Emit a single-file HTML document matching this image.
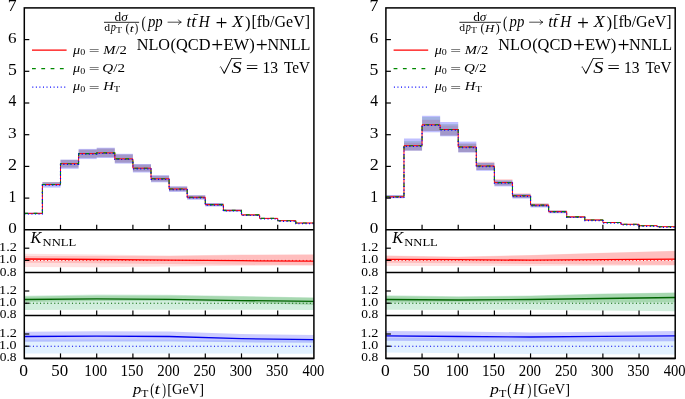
<!DOCTYPE html><html><head><meta charset="utf-8"><style>
html,body{margin:0;padding:0;background:#fff;}body{width:685px;height:399px;overflow:hidden;}
svg{display:block;font-family:"Liberation Serif", serif;will-change:transform;}.i{font-style:italic}
</style></head><body>
<svg width="685" height="399" viewBox="0 0 685 399">
<rect width="685" height="399" fill="#fff"/>
<rect x="24.3" y="212.8" width="18.1" height="1.2" fill="#f00" fill-opacity="0.15"/>
<rect x="24.3" y="212.8" width="18.1" height="1.2" fill="#008000" fill-opacity="0.15"/>
<rect x="24.3" y="212.6" width="18.1" height="1.8" fill="#00f" fill-opacity="0.25"/>
<rect x="42.4" y="182" width="18.1" height="3.5" fill="#f00" fill-opacity="0.15"/>
<rect x="42.4" y="182" width="18.1" height="3.5" fill="#008000" fill-opacity="0.15"/>
<rect x="42.4" y="182.3" width="18.1" height="5.3" fill="#00f" fill-opacity="0.25"/>
<rect x="60.5" y="159.9" width="18.1" height="7.7" fill="#f00" fill-opacity="0.15"/>
<rect x="60.5" y="159.9" width="18.1" height="7.7" fill="#008000" fill-opacity="0.15"/>
<rect x="60.5" y="159.6" width="18.1" height="9.2" fill="#00f" fill-opacity="0.25"/>
<rect x="78.6" y="149.7" width="18.1" height="8.2" fill="#f00" fill-opacity="0.15"/>
<rect x="78.6" y="149.7" width="18.1" height="8.2" fill="#008000" fill-opacity="0.15"/>
<rect x="78.6" y="148.9" width="18.1" height="10.2" fill="#00f" fill-opacity="0.25"/>
<rect x="96.7" y="148.5" width="18.1" height="8.6" fill="#f00" fill-opacity="0.15"/>
<rect x="96.7" y="148.5" width="18.1" height="8.6" fill="#008000" fill-opacity="0.15"/>
<rect x="96.7" y="147.7" width="18.1" height="10.3" fill="#00f" fill-opacity="0.25"/>
<rect x="114.8" y="154.5" width="18.1" height="8.2" fill="#f00" fill-opacity="0.15"/>
<rect x="114.8" y="154.5" width="18.1" height="8.2" fill="#008000" fill-opacity="0.15"/>
<rect x="114.8" y="153.8" width="18.1" height="9.8" fill="#00f" fill-opacity="0.25"/>
<rect x="132.9" y="164.6" width="18.1" height="6.9" fill="#f00" fill-opacity="0.15"/>
<rect x="132.9" y="164.6" width="18.1" height="6.9" fill="#008000" fill-opacity="0.15"/>
<rect x="132.9" y="164" width="18.1" height="8.5" fill="#00f" fill-opacity="0.25"/>
<rect x="151" y="175.8" width="18.1" height="5.7" fill="#f00" fill-opacity="0.15"/>
<rect x="151" y="175.8" width="18.1" height="5.7" fill="#008000" fill-opacity="0.15"/>
<rect x="151" y="175.2" width="18.1" height="7.1" fill="#00f" fill-opacity="0.25"/>
<rect x="169.1" y="186.7" width="18.1" height="4.5" fill="#f00" fill-opacity="0.15"/>
<rect x="169.1" y="186.7" width="18.1" height="4.5" fill="#008000" fill-opacity="0.15"/>
<rect x="169.1" y="186.3" width="18.1" height="5.6" fill="#00f" fill-opacity="0.25"/>
<rect x="187.2" y="195.5" width="18.1" height="3.6" fill="#f00" fill-opacity="0.15"/>
<rect x="187.2" y="195.5" width="18.1" height="3.6" fill="#008000" fill-opacity="0.15"/>
<rect x="187.2" y="195.2" width="18.1" height="4.5" fill="#00f" fill-opacity="0.25"/>
<rect x="205.3" y="203.3" width="18.1" height="2.7" fill="#f00" fill-opacity="0.15"/>
<rect x="205.3" y="203.3" width="18.1" height="2.7" fill="#008000" fill-opacity="0.15"/>
<rect x="205.3" y="203" width="18.1" height="3.5" fill="#00f" fill-opacity="0.25"/>
<rect x="223.4" y="209.6" width="18.1" height="1.7" fill="#f00" fill-opacity="0.15"/>
<rect x="223.4" y="209.6" width="18.1" height="1.7" fill="#008000" fill-opacity="0.15"/>
<rect x="223.4" y="209.4" width="18.1" height="2.2" fill="#00f" fill-opacity="0.25"/>
<rect x="241.5" y="214.3" width="18.1" height="1.2" fill="#f00" fill-opacity="0.15"/>
<rect x="241.5" y="214.3" width="18.1" height="1.2" fill="#008000" fill-opacity="0.15"/>
<rect x="241.5" y="214.2" width="18.1" height="1.5" fill="#00f" fill-opacity="0.25"/>
<rect x="259.6" y="218" width="18.1" height="0.9" fill="#f00" fill-opacity="0.15"/>
<rect x="259.6" y="218" width="18.1" height="0.9" fill="#008000" fill-opacity="0.15"/>
<rect x="259.6" y="217.9" width="18.1" height="1.1" fill="#00f" fill-opacity="0.25"/>
<rect x="277.7" y="220.4" width="18.1" height="0.7" fill="#f00" fill-opacity="0.15"/>
<rect x="277.7" y="220.4" width="18.1" height="0.7" fill="#008000" fill-opacity="0.15"/>
<rect x="277.7" y="220.3" width="18.1" height="0.9" fill="#00f" fill-opacity="0.25"/>
<rect x="295.8" y="222.8" width="18.1" height="0.5" fill="#f00" fill-opacity="0.15"/>
<rect x="295.8" y="222.8" width="18.1" height="0.5" fill="#008000" fill-opacity="0.15"/>
<rect x="295.8" y="222.7" width="18.1" height="0.7" fill="#00f" fill-opacity="0.25"/>
<path d="M24.3,213.4V213.4H42.4V184.5H60.5V163.7H78.6V153.6H96.7V152.9H114.8V158.9H132.9V168.2H151V178.8H169.1V189H187.2V197.3H205.3V204.6H223.4V210.4H241.5V214.9H259.6V218.4H277.7V220.7H295.8V223H313.9" fill="none" stroke="#f00" stroke-width="1.0"/>
<path d="M24.3,213.4V213.4H42.4V184.5H60.5V163.7H78.6V153.6H96.7V152.9H114.8V158.9H132.9V168.2H151V178.8H169.1V189H187.2V197.3H205.3V204.6H223.4V210.4H241.5V214.9H259.6V218.4H277.7V220.7H295.8V223H313.9" fill="none" stroke="#080" stroke-width="1.1" stroke-dasharray="3.8,5.5"/>
<path d="M24.3,214V214H42.4V185.1H60.5V164.3H78.6V154.2H96.7V153.5H114.8V159.5H132.9V168.8H151V179.4H169.1V189.6H187.2V197.9H205.3V205.2H223.4V211H241.5V215.5H259.6V219H277.7V221.3H295.8V223.6H313.9" fill="none" stroke="#00f" stroke-width="1.2" stroke-dasharray="1.1,2.45"/>
<path d="M24.3,253.8L96.7,254.4L169.1,255.5L241.5,254.5L313.9,254.4L313.9,265.5L241.5,265.8L169.1,266.5L96.7,267.2L24.3,267Z" fill="#f00" fill-opacity="0.12"/>
<path d="M24.3,256L96.7,256L169.1,256.1L241.5,255L313.9,254.6L313.9,265.2L241.5,264.8L169.1,264L96.7,263.2L24.3,262.8Z" fill="#f00" fill-opacity="0.15"/>
<line x1="24.3" y1="260.4" x2="313.9" y2="260.4" stroke="#fff" stroke-opacity="0.75" stroke-width="1"/>
<line x1="25.8" y1="260.4" x2="313.9" y2="260.4" stroke="#f00" stroke-width="1" stroke-dasharray="1,2.55"/>
<path d="M24.3,259L96.7,259.5L169.1,260.2L241.5,260.7L313.9,261.2" fill="none" stroke="#f00" stroke-width="1.3"/>
<line x1="24.3" y1="248.2" x2="29.3" y2="248.2" stroke="#000" stroke-width="1.2"/>
<line x1="24.3" y1="260.4" x2="29.3" y2="260.4" stroke="#000" stroke-width="1.2"/>
<line x1="60.5" y1="272.6" x2="60.5" y2="267.6" stroke="#000" stroke-width="1.2"/>
<line x1="96.7" y1="272.6" x2="96.7" y2="267.6" stroke="#000" stroke-width="1.2"/>
<line x1="132.9" y1="272.6" x2="132.9" y2="267.6" stroke="#000" stroke-width="1.2"/>
<line x1="169.1" y1="272.6" x2="169.1" y2="267.6" stroke="#000" stroke-width="1.2"/>
<line x1="205.3" y1="272.6" x2="205.3" y2="267.6" stroke="#000" stroke-width="1.2"/>
<line x1="241.5" y1="272.6" x2="241.5" y2="267.6" stroke="#000" stroke-width="1.2"/>
<line x1="277.7" y1="272.6" x2="277.7" y2="267.6" stroke="#000" stroke-width="1.2"/>
<line x1="24.3" y1="272.6" x2="313.9" y2="272.6" stroke="#000" stroke-width="1.5"/>
<path d="M24.3,295.8L96.7,294.5L169.1,294.8L241.5,296L313.9,297.5L313.9,309.9L241.5,309.8L169.1,309.7L96.7,309.7L24.3,309.9Z" fill="#00a040" fill-opacity="0.18"/>
<path d="M24.3,296.6L96.7,295.4L169.1,295.5L241.5,296.4L313.9,297.8L313.9,305L241.5,302.5L169.1,300.8L96.7,301L24.3,301.9Z" fill="#008000" fill-opacity="0.2"/>
<line x1="25.8" y1="303.2" x2="313.9" y2="303.2" stroke="#006400" stroke-width="1.1" stroke-dasharray="1.1,2.45"/>
<path d="M24.3,299.5L96.7,298.9L169.1,299.4L241.5,300.6L313.9,301.3" fill="none" stroke="#006400" stroke-width="1.3"/>
<line x1="24.3" y1="291" x2="29.3" y2="291" stroke="#000" stroke-width="1.2"/>
<line x1="24.3" y1="303.2" x2="29.3" y2="303.2" stroke="#000" stroke-width="1.2"/>
<line x1="60.5" y1="315.4" x2="60.5" y2="310.4" stroke="#000" stroke-width="1.2"/>
<line x1="96.7" y1="315.4" x2="96.7" y2="310.4" stroke="#000" stroke-width="1.2"/>
<line x1="132.9" y1="315.4" x2="132.9" y2="310.4" stroke="#000" stroke-width="1.2"/>
<line x1="169.1" y1="315.4" x2="169.1" y2="310.4" stroke="#000" stroke-width="1.2"/>
<line x1="205.3" y1="315.4" x2="205.3" y2="310.4" stroke="#000" stroke-width="1.2"/>
<line x1="241.5" y1="315.4" x2="241.5" y2="310.4" stroke="#000" stroke-width="1.2"/>
<line x1="277.7" y1="315.4" x2="277.7" y2="310.4" stroke="#000" stroke-width="1.2"/>
<line x1="24.3" y1="315.4" x2="313.9" y2="315.4" stroke="#000" stroke-width="1.5"/>
<path d="M24.3,339.6L96.7,339.5L169.1,339.5L241.5,339.7L313.9,340L313.9,353.8L241.5,353.6L169.1,353.5L96.7,353.5L24.3,353.6Z" fill="#3fa0ff" fill-opacity="0.15"/>
<path d="M24.3,331.8L96.7,331.2L169.1,331.6L241.5,334L313.9,334.9L313.9,342.8L241.5,342.3L169.1,341.6L96.7,341.4L24.3,341.7Z" fill="#00f" fill-opacity="0.2"/>
<line x1="25.8" y1="346.2" x2="313.9" y2="346.2" stroke="#0000ee" stroke-width="1.1" stroke-dasharray="1.1,2.45"/>
<path d="M24.3,336.5L96.7,336.2L169.1,336.5L241.5,338.6L313.9,339.7" fill="none" stroke="#0000ee" stroke-width="1.3"/>
<line x1="24.3" y1="334" x2="29.3" y2="334" stroke="#000" stroke-width="1.2"/>
<line x1="24.3" y1="346.2" x2="29.3" y2="346.2" stroke="#000" stroke-width="1.2"/>
<line x1="60.5" y1="358.4" x2="60.5" y2="353.4" stroke="#000" stroke-width="1.2"/>
<line x1="96.7" y1="358.4" x2="96.7" y2="353.4" stroke="#000" stroke-width="1.2"/>
<line x1="132.9" y1="358.4" x2="132.9" y2="353.4" stroke="#000" stroke-width="1.2"/>
<line x1="169.1" y1="358.4" x2="169.1" y2="353.4" stroke="#000" stroke-width="1.2"/>
<line x1="205.3" y1="358.4" x2="205.3" y2="353.4" stroke="#000" stroke-width="1.2"/>
<line x1="241.5" y1="358.4" x2="241.5" y2="353.4" stroke="#000" stroke-width="1.2"/>
<line x1="277.7" y1="358.4" x2="277.7" y2="353.4" stroke="#000" stroke-width="1.2"/>
<line x1="24.3" y1="358.4" x2="313.9" y2="358.4" stroke="#000" stroke-width="1.5"/>
<line x1="24.3" y1="198.1" x2="29.3" y2="198.1" stroke="#000" stroke-width="1.2"/>
<line x1="24.3" y1="166.4" x2="29.3" y2="166.4" stroke="#000" stroke-width="1.2"/>
<line x1="24.3" y1="134.7" x2="29.3" y2="134.7" stroke="#000" stroke-width="1.2"/>
<line x1="24.3" y1="103" x2="29.3" y2="103" stroke="#000" stroke-width="1.2"/>
<line x1="24.3" y1="71.3" x2="29.3" y2="71.3" stroke="#000" stroke-width="1.2"/>
<line x1="24.3" y1="39.6" x2="29.3" y2="39.6" stroke="#000" stroke-width="1.2"/>
<line x1="60.5" y1="229.8" x2="60.5" y2="224.8" stroke="#000" stroke-width="1.2"/>
<line x1="96.7" y1="229.8" x2="96.7" y2="224.8" stroke="#000" stroke-width="1.2"/>
<line x1="132.9" y1="229.8" x2="132.9" y2="224.8" stroke="#000" stroke-width="1.2"/>
<line x1="169.1" y1="229.8" x2="169.1" y2="224.8" stroke="#000" stroke-width="1.2"/>
<line x1="205.3" y1="229.8" x2="205.3" y2="224.8" stroke="#000" stroke-width="1.2"/>
<line x1="241.5" y1="229.8" x2="241.5" y2="224.8" stroke="#000" stroke-width="1.2"/>
<line x1="277.7" y1="229.8" x2="277.7" y2="224.8" stroke="#000" stroke-width="1.2"/>
<rect x="24.3" y="7.9" width="289.6" height="350.5" fill="none" stroke="#000" stroke-width="1.5"/>
<line x1="24.3" y1="229.8" x2="313.9" y2="229.8" stroke="#000" stroke-width="1.5"/>
<path d="M167.6,22.2H180.9" stroke="#000" stroke-width="0.7"/>
<path d="M178.3,19.6Q179.2,21.7 181.4,22.2Q179.2,22.7 178.3,24.8" fill="none" stroke="#000" stroke-width="0.7"/>
<path d="M193.8,14.5H198.2" stroke="#000" stroke-width="0.8"/>
<line x1="104" y1="22.3" x2="139.1" y2="22.3" stroke="#000" stroke-width="0.85"/>
<path d="M219.1,67.7L220.7,66.3L224.2,72.2L231.4,58.0H241.6V58.75H231.9L224.7,73.7H223.9L220.5,67.0Z" fill="#000"/>
<line x1="32" y1="50.1" x2="66.6" y2="50.1" stroke="#f00" stroke-width="1.2"/>
<line x1="32" y1="68.7" x2="66.6" y2="68.7" stroke="#080" stroke-width="1.2" stroke-dasharray="3.8,5.5"/>
<line x1="32.3" y1="87.1" x2="66.6" y2="87.1" stroke="#00f" stroke-width="1.1" stroke-dasharray="1,2.55"/>
<rect x="385.9" y="195.5" width="18.08" height="2.5" fill="#f00" fill-opacity="0.15"/>
<rect x="385.9" y="195.5" width="18.08" height="2.5" fill="#008000" fill-opacity="0.15"/>
<rect x="385.9" y="195" width="18.08" height="3.3" fill="#00f" fill-opacity="0.25"/>
<rect x="403.98" y="142.6" width="18.08" height="7.9" fill="#f00" fill-opacity="0.15"/>
<rect x="403.98" y="141" width="18.08" height="9.5" fill="#008000" fill-opacity="0.15"/>
<rect x="403.98" y="138.5" width="18.08" height="12.2" fill="#00f" fill-opacity="0.25"/>
<rect x="422.06" y="119.8" width="18.08" height="11.2" fill="#f00" fill-opacity="0.15"/>
<rect x="422.06" y="117" width="18.08" height="14" fill="#008000" fill-opacity="0.15"/>
<rect x="422.06" y="115.8" width="18.08" height="16.5" fill="#00f" fill-opacity="0.25"/>
<rect x="440.14" y="125.5" width="18.08" height="10" fill="#f00" fill-opacity="0.15"/>
<rect x="440.14" y="124" width="18.08" height="11.5" fill="#008000" fill-opacity="0.15"/>
<rect x="440.14" y="122" width="18.08" height="14.3" fill="#00f" fill-opacity="0.25"/>
<rect x="458.23" y="143.6" width="18.08" height="8.5" fill="#f00" fill-opacity="0.15"/>
<rect x="458.23" y="143.6" width="18.08" height="8.5" fill="#008000" fill-opacity="0.15"/>
<rect x="458.23" y="141.6" width="18.08" height="10.9" fill="#00f" fill-opacity="0.25"/>
<rect x="476.31" y="161.8" width="18.08" height="8.2" fill="#f00" fill-opacity="0.15"/>
<rect x="476.31" y="162.8" width="18.08" height="7.2" fill="#008000" fill-opacity="0.15"/>
<rect x="476.31" y="162.8" width="18.08" height="8" fill="#00f" fill-opacity="0.25"/>
<rect x="494.39" y="179" width="18.08" height="6.5" fill="#f00" fill-opacity="0.15"/>
<rect x="494.39" y="180.4" width="18.08" height="5.1" fill="#008000" fill-opacity="0.15"/>
<rect x="494.39" y="180.4" width="18.08" height="6" fill="#00f" fill-opacity="0.25"/>
<rect x="512.47" y="193.1" width="18.08" height="4.9" fill="#f00" fill-opacity="0.15"/>
<rect x="512.47" y="194" width="18.08" height="4" fill="#008000" fill-opacity="0.15"/>
<rect x="512.47" y="194" width="18.08" height="4.6" fill="#00f" fill-opacity="0.25"/>
<rect x="530.55" y="203.2" width="18.08" height="3.8" fill="#f00" fill-opacity="0.15"/>
<rect x="530.55" y="203.8" width="18.08" height="3.2" fill="#008000" fill-opacity="0.15"/>
<rect x="530.55" y="203.8" width="18.08" height="3.7" fill="#00f" fill-opacity="0.25"/>
<rect x="548.63" y="210.2" width="18.08" height="2.6" fill="#f00" fill-opacity="0.15"/>
<rect x="548.63" y="210.6" width="18.08" height="2.2" fill="#008000" fill-opacity="0.15"/>
<rect x="548.63" y="210.6" width="18.08" height="2.7" fill="#00f" fill-opacity="0.25"/>
<rect x="566.71" y="216" width="18.08" height="1.7" fill="#f00" fill-opacity="0.15"/>
<rect x="566.71" y="216.2" width="18.08" height="1.5" fill="#008000" fill-opacity="0.15"/>
<rect x="566.71" y="216.2" width="18.08" height="1.8" fill="#00f" fill-opacity="0.25"/>
<rect x="584.79" y="219.3" width="18.08" height="1.3" fill="#f00" fill-opacity="0.15"/>
<rect x="584.79" y="219.3" width="18.08" height="1.3" fill="#008000" fill-opacity="0.15"/>
<rect x="584.79" y="219.4" width="18.08" height="1.4" fill="#00f" fill-opacity="0.25"/>
<rect x="602.88" y="222" width="18.08" height="1" fill="#f00" fill-opacity="0.15"/>
<rect x="602.88" y="222" width="18.08" height="1" fill="#008000" fill-opacity="0.15"/>
<rect x="602.88" y="222.1" width="18.08" height="1" fill="#00f" fill-opacity="0.25"/>
<rect x="620.96" y="223.9" width="18.08" height="0.8" fill="#f00" fill-opacity="0.15"/>
<rect x="620.96" y="223.9" width="18.08" height="0.8" fill="#008000" fill-opacity="0.15"/>
<rect x="620.96" y="224" width="18.08" height="0.8" fill="#00f" fill-opacity="0.25"/>
<rect x="639.04" y="225.4" width="18.08" height="0.6" fill="#f00" fill-opacity="0.15"/>
<rect x="639.04" y="225.4" width="18.08" height="0.6" fill="#008000" fill-opacity="0.15"/>
<rect x="639.04" y="225.5" width="18.08" height="0.6" fill="#00f" fill-opacity="0.25"/>
<rect x="657.12" y="226.5" width="18.08" height="0.5" fill="#f00" fill-opacity="0.15"/>
<rect x="657.12" y="226.5" width="18.08" height="0.5" fill="#008000" fill-opacity="0.15"/>
<rect x="657.12" y="226.5" width="18.08" height="0.5" fill="#00f" fill-opacity="0.25"/>
<path d="M385.9,196.8V196.8H403.98V145.7H422.06V124.8H440.14V129.5H458.23V147H476.31V166H494.39V182.6H512.47V195.8H530.55V205.1H548.63V211.6H566.71V216.9H584.79V220H602.88V222.5H620.96V224.3H639.04V225.7H657.12V226.7H675.2" fill="none" stroke="#f00" stroke-width="1.0"/>
<path d="M385.9,196.8V196.8H403.98V145.7H422.06V124.8H440.14V129.5H458.23V147H476.31V166H494.39V182.6H512.47V195.8H530.55V205.1H548.63V211.6H566.71V216.9H584.79V220H602.88V222.5H620.96V224.3H639.04V225.7H657.12V226.7H675.2" fill="none" stroke="#080" stroke-width="1.1" stroke-dasharray="3.8,5.5"/>
<path d="M385.9,197.4V197.4H403.98V146.3H422.06V125.4H440.14V130.1H458.23V147.6H476.31V166.6H494.39V183.2H512.47V196.4H530.55V205.7H548.63V212.2H566.71V217.5H584.79V220.6H602.88V223.1H620.96V224.9H639.04V226.3H657.12V227.3H675.2" fill="none" stroke="#00f" stroke-width="1.2" stroke-dasharray="1.1,2.45"/>
<path d="M385.9,255.5L458.23,256.5L530.55,255L602.88,252.8L675.2,250.8L675.2,265.5L602.88,265.8L530.55,266L458.23,266L385.9,266Z" fill="#f00" fill-opacity="0.12"/>
<path d="M385.9,255.8L458.23,257L530.55,255.3L602.88,253L675.2,251L675.2,264.9L602.88,264.5L530.55,264L458.23,263.3L385.9,262.7Z" fill="#f00" fill-opacity="0.15"/>
<line x1="385.9" y1="260.4" x2="675.2" y2="260.4" stroke="#fff" stroke-opacity="0.75" stroke-width="1"/>
<line x1="387.4" y1="260.4" x2="675.2" y2="260.4" stroke="#f00" stroke-width="1" stroke-dasharray="1,2.55"/>
<path d="M385.9,259.3L458.23,259.6L530.55,260.2L602.88,259.7L675.2,259.1" fill="none" stroke="#f00" stroke-width="1.3"/>
<line x1="385.9" y1="248.2" x2="390.9" y2="248.2" stroke="#000" stroke-width="1.2"/>
<line x1="385.9" y1="260.4" x2="390.9" y2="260.4" stroke="#000" stroke-width="1.2"/>
<line x1="422.06" y1="272.6" x2="422.06" y2="267.6" stroke="#000" stroke-width="1.2"/>
<line x1="458.23" y1="272.6" x2="458.23" y2="267.6" stroke="#000" stroke-width="1.2"/>
<line x1="494.39" y1="272.6" x2="494.39" y2="267.6" stroke="#000" stroke-width="1.2"/>
<line x1="530.55" y1="272.6" x2="530.55" y2="267.6" stroke="#000" stroke-width="1.2"/>
<line x1="566.71" y1="272.6" x2="566.71" y2="267.6" stroke="#000" stroke-width="1.2"/>
<line x1="602.88" y1="272.6" x2="602.88" y2="267.6" stroke="#000" stroke-width="1.2"/>
<line x1="639.04" y1="272.6" x2="639.04" y2="267.6" stroke="#000" stroke-width="1.2"/>
<line x1="385.9" y1="272.6" x2="675.2" y2="272.6" stroke="#000" stroke-width="1.5"/>
<path d="M385.9,295.3L458.23,296.3L530.55,295.5L602.88,293.6L675.2,292.5L675.2,311.3L602.88,310.4L530.55,309.7L458.23,309.9L385.9,309.8Z" fill="#00a040" fill-opacity="0.18"/>
<path d="M385.9,296L458.23,296.8L530.55,296L602.88,294L675.2,292.8L675.2,302.3L602.88,302.4L530.55,302.4L458.23,302.3L385.9,302.5Z" fill="#008000" fill-opacity="0.2"/>
<line x1="387.4" y1="303.2" x2="675.2" y2="303.2" stroke="#006400" stroke-width="1.1" stroke-dasharray="1.1,2.45"/>
<path d="M385.9,299.5L458.23,300L530.55,299.5L602.88,298.5L675.2,297.5" fill="none" stroke="#006400" stroke-width="1.3"/>
<line x1="385.9" y1="291" x2="390.9" y2="291" stroke="#000" stroke-width="1.2"/>
<line x1="385.9" y1="303.2" x2="390.9" y2="303.2" stroke="#000" stroke-width="1.2"/>
<line x1="422.06" y1="315.4" x2="422.06" y2="310.4" stroke="#000" stroke-width="1.2"/>
<line x1="458.23" y1="315.4" x2="458.23" y2="310.4" stroke="#000" stroke-width="1.2"/>
<line x1="494.39" y1="315.4" x2="494.39" y2="310.4" stroke="#000" stroke-width="1.2"/>
<line x1="530.55" y1="315.4" x2="530.55" y2="310.4" stroke="#000" stroke-width="1.2"/>
<line x1="566.71" y1="315.4" x2="566.71" y2="310.4" stroke="#000" stroke-width="1.2"/>
<line x1="602.88" y1="315.4" x2="602.88" y2="310.4" stroke="#000" stroke-width="1.2"/>
<line x1="639.04" y1="315.4" x2="639.04" y2="310.4" stroke="#000" stroke-width="1.2"/>
<line x1="385.9" y1="315.4" x2="675.2" y2="315.4" stroke="#000" stroke-width="1.5"/>
<path d="M385.9,338L458.23,338L530.55,338L602.88,337.8L675.2,337.5L675.2,354.4L602.88,354.3L530.55,354L458.23,353.3L385.9,352.5Z" fill="#3fa0ff" fill-opacity="0.15"/>
<path d="M385.9,330.9L458.23,331.5L530.55,332.4L602.88,331.8L675.2,331L675.2,341.3L602.88,341.4L530.55,341.6L458.23,341.2L385.9,340.8Z" fill="#00f" fill-opacity="0.2"/>
<line x1="387.4" y1="346.2" x2="675.2" y2="346.2" stroke="#0000ee" stroke-width="1.1" stroke-dasharray="1.1,2.45"/>
<path d="M385.9,335.9L458.23,336.5L530.55,337L602.88,336.4L675.2,335.9" fill="none" stroke="#0000ee" stroke-width="1.3"/>
<line x1="385.9" y1="334" x2="390.9" y2="334" stroke="#000" stroke-width="1.2"/>
<line x1="385.9" y1="346.2" x2="390.9" y2="346.2" stroke="#000" stroke-width="1.2"/>
<line x1="422.06" y1="358.4" x2="422.06" y2="353.4" stroke="#000" stroke-width="1.2"/>
<line x1="458.23" y1="358.4" x2="458.23" y2="353.4" stroke="#000" stroke-width="1.2"/>
<line x1="494.39" y1="358.4" x2="494.39" y2="353.4" stroke="#000" stroke-width="1.2"/>
<line x1="530.55" y1="358.4" x2="530.55" y2="353.4" stroke="#000" stroke-width="1.2"/>
<line x1="566.71" y1="358.4" x2="566.71" y2="353.4" stroke="#000" stroke-width="1.2"/>
<line x1="602.88" y1="358.4" x2="602.88" y2="353.4" stroke="#000" stroke-width="1.2"/>
<line x1="639.04" y1="358.4" x2="639.04" y2="353.4" stroke="#000" stroke-width="1.2"/>
<line x1="385.9" y1="358.4" x2="675.2" y2="358.4" stroke="#000" stroke-width="1.5"/>
<line x1="385.9" y1="198.1" x2="390.9" y2="198.1" stroke="#000" stroke-width="1.2"/>
<line x1="385.9" y1="166.4" x2="390.9" y2="166.4" stroke="#000" stroke-width="1.2"/>
<line x1="385.9" y1="134.7" x2="390.9" y2="134.7" stroke="#000" stroke-width="1.2"/>
<line x1="385.9" y1="103" x2="390.9" y2="103" stroke="#000" stroke-width="1.2"/>
<line x1="385.9" y1="71.3" x2="390.9" y2="71.3" stroke="#000" stroke-width="1.2"/>
<line x1="385.9" y1="39.6" x2="390.9" y2="39.6" stroke="#000" stroke-width="1.2"/>
<line x1="422.06" y1="229.8" x2="422.06" y2="224.8" stroke="#000" stroke-width="1.2"/>
<line x1="458.23" y1="229.8" x2="458.23" y2="224.8" stroke="#000" stroke-width="1.2"/>
<line x1="494.39" y1="229.8" x2="494.39" y2="224.8" stroke="#000" stroke-width="1.2"/>
<line x1="530.55" y1="229.8" x2="530.55" y2="224.8" stroke="#000" stroke-width="1.2"/>
<line x1="566.71" y1="229.8" x2="566.71" y2="224.8" stroke="#000" stroke-width="1.2"/>
<line x1="602.88" y1="229.8" x2="602.88" y2="224.8" stroke="#000" stroke-width="1.2"/>
<line x1="639.04" y1="229.8" x2="639.04" y2="224.8" stroke="#000" stroke-width="1.2"/>
<rect x="385.9" y="7.9" width="289.3" height="350.5" fill="none" stroke="#000" stroke-width="1.5"/>
<line x1="385.9" y1="229.8" x2="675.2" y2="229.8" stroke="#000" stroke-width="1.5"/>
<path d="M529.2,22.2H542.5" stroke="#000" stroke-width="0.7"/>
<path d="M539.9,19.6Q540.8,21.7 543,22.2Q540.8,22.7 539.9,24.8" fill="none" stroke="#000" stroke-width="0.7"/>
<path d="M555.4,14.5H559.8" stroke="#000" stroke-width="0.8"/>
<line x1="459.4" y1="22.3" x2="501" y2="22.3" stroke="#000" stroke-width="0.85"/>
<path d="M580.7,67.7L582.3,66.3L585.8,72.2L593,58.0H603.2V58.75H593.5L586.3,73.7H585.5L582.1,67.0Z" fill="#000"/>
<line x1="393.6" y1="50.1" x2="428.2" y2="50.1" stroke="#f00" stroke-width="1.2"/>
<line x1="393.6" y1="68.7" x2="428.2" y2="68.7" stroke="#080" stroke-width="1.2" stroke-dasharray="3.8,5.5"/>
<line x1="393.9" y1="87.1" x2="428.2" y2="87.1" stroke="#00f" stroke-width="1.1" stroke-dasharray="1,2.55"/>
<g transform="matrix(1.1418,0,0,0.9672,-0.98,251.28)"><text x="0" y="0" font-size="12.5">1.2</text></g>
<g transform="matrix(1.1214,0,0,0.9672,-0.96,263.48)"><text x="0" y="0" font-size="12.5">1.0</text></g>
<g transform="matrix(1.0735,0,0,0.9672,-0.24,275.68)"><text x="0" y="0" font-size="12.5">0.8</text></g>
<g transform="matrix(1.1418,0,0,0.9672,-0.98,294.08)"><text x="0" y="0" font-size="12.5">1.2</text></g>
<g transform="matrix(1.1214,0,0,0.9672,-0.96,306.28)"><text x="0" y="0" font-size="12.5">1.0</text></g>
<g transform="matrix(1.0735,0,0,0.9672,-0.24,318.48)"><text x="0" y="0" font-size="12.5">0.8</text></g>
<g transform="matrix(1.1418,0,0,0.9672,-0.98,337.08)"><text x="0" y="0" font-size="12.5">1.2</text></g>
<g transform="matrix(1.1214,0,0,0.9672,-0.96,349.28)"><text x="0" y="0" font-size="12.5">1.0</text></g>
<g transform="matrix(1.0735,0,0,0.9672,-0.24,361.48)"><text x="0" y="0" font-size="12.5">0.8</text></g>
<g transform="matrix(1.0667,0,0,0.9674,8.23,233.08)"><text x="0" y="0" font-size="16">0</text></g>
<g transform="matrix(0.9778,0,0,0.9905,8.56,201.50)"><text x="0" y="0" font-size="16">1</text></g>
<g transform="matrix(1.1294,0,0,0.9788,8.05,169.80)"><text x="0" y="0" font-size="16">2</text></g>
<g transform="matrix(1.0868,0,0,0.9674,8.08,137.98)"><text x="0" y="0" font-size="16">3</text></g>
<g transform="matrix(0.9763,0,0,0.9905,8.53,106.40)"><text x="0" y="0" font-size="16">4</text></g>
<g transform="matrix(1.1077,0,0,0.9788,7.93,74.58)"><text x="0" y="0" font-size="16">5</text></g>
<g transform="matrix(1.0667,0,0,0.9674,8.10,42.88)"><text x="0" y="0" font-size="16">6</text></g>
<g transform="matrix(1.1077,0,0,0.9905,7.79,11.30)"><text x="0" y="0" font-size="16">7</text></g>
<g transform="matrix(1.0963,0,0,1.0140,19.31,375.77)"><text x="0" y="0" font-size="16">0</text></g>
<g transform="matrix(1.0552,0,0,1.0140,51.33,375.77)"><text x="0" y="0" font-size="16">50</text></g>
<g transform="matrix(0.9545,0,0,1.0140,84.29,375.77)"><text x="0" y="0" font-size="16">100</text></g>
<g transform="matrix(0.9545,0,0,1.0140,120.49,375.77)"><text x="0" y="0" font-size="16">150</text></g>
<g transform="matrix(0.9282,0,0,1.0140,157.30,375.77)"><text x="0" y="0" font-size="16">200</text></g>
<g transform="matrix(0.9282,0,0,1.0140,193.50,375.77)"><text x="0" y="0" font-size="16">250</text></g>
<g transform="matrix(0.9282,0,0,1.0140,229.70,375.77)"><text x="0" y="0" font-size="16">300</text></g>
<g transform="matrix(0.9282,0,0,1.0140,265.90,375.77)"><text x="0" y="0" font-size="16">350</text></g>
<g transform="matrix(0.9130,0,0,1.0140,302.46,375.77)"><text x="0" y="0" font-size="16">400</text></g>
<g transform="matrix(1.1077,0,0,1.0000,132.97,394.40)"><text x="0" y="0" font-size="15"><tspan class="i">p</tspan><tspan font-size="10.5" dy="2.2">T</tspan></text></g>
<g transform="matrix(0.8000,0,0,1.1111,150.20,395.13)"><text x="0" y="0" font-size="15">(</text></g>
<g transform="matrix(1.3067,0,0,1.0000,154.62,394.40)"><text x="0" y="0" font-size="15"><tspan class="i">t</tspan></text></g>
<g transform="matrix(0.7484,0,0,1.1111,162.23,395.13)"><text x="0" y="0" font-size="15">)</text></g>
<g transform="matrix(0.9578,0,0,1.0000,167.32,394.40)"><text x="0" y="0" font-size="15">[GeV]</text></g>
<g transform="matrix(1.0065,0,0,1.0000,30.53,242.90)"><text x="0" y="0" font-size="16.2"><tspan class="i">K</tspan></text></g>
<g transform="matrix(1.1469,0,0,1.0000,42.57,246.00)"><text x="0" y="0" font-size="11">NNLL</text></g>
<g transform="matrix(0.8000,0,0,1.0256,141.50,27.54)"><text x="0" y="0" font-size="16.2">(</text></g>
<g transform="matrix(0.9083,0,0,1.0000,147.99,26.60)"><text x="0" y="0" font-size="16.2"><tspan class="i">pp</tspan></text></g>
<g transform="matrix(1.0250,0,0,1.0000,186.53,26.60)"><text x="0" y="0" font-size="16.2"><tspan class="i">t</tspan></text></g>
<g transform="matrix(1.1250,0,0,1.0000,191.26,26.60)"><text x="0" y="0" font-size="16.2"><tspan class="i">t</tspan></text></g>
<g transform="matrix(0.9280,0,0,1.0000,198.72,26.60)"><text x="0" y="0" font-size="16.2"><tspan class="i">H</tspan></text></g>
<g transform="matrix(1.3115,0,0,1.3067,215.42,29.92)"><text x="0" y="0" font-size="16.2">+</text></g>
<g transform="matrix(1.1034,0,0,1.0000,232.15,26.60)"><text x="0" y="0" font-size="16.2"><tspan class="i">X</tspan></text></g>
<g transform="matrix(1.0424,0,0,1.0256,244.98,27.54)"><text x="0" y="0" font-size="16.2">)</text></g>
<g transform="matrix(0.9864,0,0,1.0000,251.47,26.60)"><text x="0" y="0" font-size="16.2">[fb/GeV]</text></g>
<g transform="matrix(1.1604,0,0,1.0000,114.51,20.60)"><text x="0" y="0" font-size="11.5">d<tspan class="i">σ</tspan></text></g>
<g transform="matrix(1.0600,0,0,0.9806,104.20,31.38)"><text x="0" y="0" font-size="11">d</text></g>
<g transform="matrix(0.9000,0,0,1.0000,110.66,31.30)"><text x="0" y="0" font-size="11.5"><tspan class="i">p</tspan></text></g>
<g transform="matrix(1.2324,0,0,0.9333,115.95,33.20)"><text x="0" y="0" font-size="8">T</text></g>
<g transform="matrix(1.0909,0,0,1.0974,125.45,31.93)"><text x="0" y="0" font-size="11">(</text></g>
<g transform="matrix(1.3091,0,0,1.0000,129.65,31.50)"><text x="0" y="0" font-size="11"><tspan class="i">t</tspan></text></g>
<g transform="matrix(0.9455,0,0,1.0835,134.85,31.96)"><text x="0" y="0" font-size="11">)</text></g>
<g transform="matrix(1.0023,0,0,1.0000,136.70,50.00)"><text x="0" y="0" font-size="16.2">NLO</text></g>
<g transform="matrix(1.0098,0,0,1.0000,170.54,50.00)"><text x="0" y="0" font-size="16.2">(QCD</text></g>
<g transform="matrix(1.3115,0,0,1.2933,211.32,52.40)"><text x="0" y="0" font-size="16.2">+</text></g>
<g transform="matrix(1.0247,0,0,1.0000,223.39,50.00)"><text x="0" y="0" font-size="16.2">EW)</text></g>
<g transform="matrix(1.3246,0,0,1.2933,255.81,52.40)"><text x="0" y="0" font-size="16.2">+</text></g>
<g transform="matrix(0.9964,0,0,1.0000,267.40,50.00)"><text x="0" y="0" font-size="16.2">NNLL</text></g>
<g transform="matrix(1.2590,0,0,1.0851,231.59,72.96)"><text x="0" y="0" font-size="16.2"><tspan class="i">S</tspan></text></g>
<g transform="matrix(1.3902,0,0,1.0000,245.76,73.47)"><text x="0" y="0" font-size="16.2">=</text></g>
<g transform="matrix(0.9628,0,0,1.0000,262.38,72.80)"><text x="0" y="0" font-size="16.2">13</text></g>
<g transform="matrix(0.9394,0,0,1.0000,283.97,72.80)"><text x="0" y="0" font-size="16.2">TeV</text></g>
<g transform="matrix(1.1800,0,0,1.0000,73.10,53.50)"><text x="0" y="0" font-size="12"><tspan class="i">μ</tspan><tspan font-size="8.5" dy="1.9">0</tspan></text></g>
<g transform="matrix(1.6000,0,0,0.9333,88.70,54.03)"><text x="0" y="0" font-size="12">=</text></g>
<g transform="matrix(1.2213,0,0,1.0000,103.25,53.50)"><text x="0" y="0" font-size="12"><tspan class="i">M</tspan>/2</text></g>
<g transform="matrix(1.1800,0,0,1.0000,73.10,71.90)"><text x="0" y="0" font-size="12"><tspan class="i">μ</tspan><tspan font-size="8.5" dy="1.9">0</tspan></text></g>
<g transform="matrix(1.6000,0,0,0.9333,88.70,72.43)"><text x="0" y="0" font-size="12">=</text></g>
<g transform="matrix(1.2597,0,0,1.0000,102.31,71.90)"><text x="0" y="0" font-size="12"><tspan class="i">Q</tspan>/2</text></g>
<g transform="matrix(1.1800,0,0,1.0000,73.10,90.20)"><text x="0" y="0" font-size="12"><tspan class="i">μ</tspan><tspan font-size="8.5" dy="1.9">0</tspan></text></g>
<g transform="matrix(1.6000,0,0,0.9333,88.70,90.73)"><text x="0" y="0" font-size="12">=</text></g>
<g transform="matrix(1.2252,0,0,1.0000,103.25,90.20)"><text x="0" y="0" font-size="12"><tspan class="i">H</tspan><tspan font-size="8.5" dy="1.9">T</tspan></text></g>
<g transform="matrix(1.1418,0,0,0.9672,360.62,251.28)"><text x="0" y="0" font-size="12.5">1.2</text></g>
<g transform="matrix(1.1214,0,0,0.9672,360.64,263.48)"><text x="0" y="0" font-size="12.5">1.0</text></g>
<g transform="matrix(1.0735,0,0,0.9672,361.36,275.68)"><text x="0" y="0" font-size="12.5">0.8</text></g>
<g transform="matrix(1.1418,0,0,0.9672,360.62,294.08)"><text x="0" y="0" font-size="12.5">1.2</text></g>
<g transform="matrix(1.1214,0,0,0.9672,360.64,306.28)"><text x="0" y="0" font-size="12.5">1.0</text></g>
<g transform="matrix(1.0735,0,0,0.9672,361.36,318.48)"><text x="0" y="0" font-size="12.5">0.8</text></g>
<g transform="matrix(1.1418,0,0,0.9672,360.62,337.08)"><text x="0" y="0" font-size="12.5">1.2</text></g>
<g transform="matrix(1.1214,0,0,0.9672,360.64,349.28)"><text x="0" y="0" font-size="12.5">1.0</text></g>
<g transform="matrix(1.0735,0,0,0.9672,361.36,361.48)"><text x="0" y="0" font-size="12.5">0.8</text></g>
<g transform="matrix(1.0667,0,0,0.9674,369.83,233.08)"><text x="0" y="0" font-size="16">0</text></g>
<g transform="matrix(0.9778,0,0,0.9905,370.16,201.50)"><text x="0" y="0" font-size="16">1</text></g>
<g transform="matrix(1.1294,0,0,0.9788,369.65,169.80)"><text x="0" y="0" font-size="16">2</text></g>
<g transform="matrix(1.0868,0,0,0.9674,369.68,137.98)"><text x="0" y="0" font-size="16">3</text></g>
<g transform="matrix(0.9763,0,0,0.9905,370.13,106.40)"><text x="0" y="0" font-size="16">4</text></g>
<g transform="matrix(1.1077,0,0,0.9788,369.53,74.58)"><text x="0" y="0" font-size="16">5</text></g>
<g transform="matrix(1.0667,0,0,0.9674,369.70,42.88)"><text x="0" y="0" font-size="16">6</text></g>
<g transform="matrix(1.1077,0,0,0.9905,369.39,11.30)"><text x="0" y="0" font-size="16">7</text></g>
<g transform="matrix(1.0963,0,0,1.0140,380.91,375.77)"><text x="0" y="0" font-size="16">0</text></g>
<g transform="matrix(1.0552,0,0,1.0140,412.89,375.77)"><text x="0" y="0" font-size="16">50</text></g>
<g transform="matrix(0.9545,0,0,1.0140,445.81,375.77)"><text x="0" y="0" font-size="16">100</text></g>
<g transform="matrix(0.9545,0,0,1.0140,481.97,375.77)"><text x="0" y="0" font-size="16">150</text></g>
<g transform="matrix(0.9282,0,0,1.0140,518.75,375.77)"><text x="0" y="0" font-size="16">200</text></g>
<g transform="matrix(0.9282,0,0,1.0140,554.92,375.77)"><text x="0" y="0" font-size="16">250</text></g>
<g transform="matrix(0.9282,0,0,1.0140,591.08,375.77)"><text x="0" y="0" font-size="16">300</text></g>
<g transform="matrix(0.9282,0,0,1.0140,627.24,375.77)"><text x="0" y="0" font-size="16">350</text></g>
<g transform="matrix(0.9130,0,0,1.0140,663.76,375.77)"><text x="0" y="0" font-size="16">400</text></g>
<g transform="matrix(1.1487,0,0,1.0000,490.31,394.40)"><text x="0" y="0" font-size="15"><tspan class="i">p</tspan><tspan font-size="10.5" dy="2.2">T</tspan></text></g>
<g transform="matrix(0.8516,0,0,1.1111,507.37,395.13)"><text x="0" y="0" font-size="15">(</text></g>
<g transform="matrix(1.0495,0,0,1.0000,513.13,394.40)"><text x="0" y="0" font-size="15"><tspan class="i">H</tspan></text></g>
<g transform="matrix(0.7742,0,0,1.1111,527.61,395.13)"><text x="0" y="0" font-size="15">)</text></g>
<g transform="matrix(0.9578,0,0,1.0000,533.32,394.40)"><text x="0" y="0" font-size="15">[GeV]</text></g>
<g transform="matrix(1.0065,0,0,1.0000,392.13,242.90)"><text x="0" y="0" font-size="16.2"><tspan class="i">K</tspan></text></g>
<g transform="matrix(1.1469,0,0,1.0000,404.17,246.00)"><text x="0" y="0" font-size="11">NNLL</text></g>
<g transform="matrix(0.8000,0,0,1.0256,503.10,27.54)"><text x="0" y="0" font-size="16.2">(</text></g>
<g transform="matrix(0.9083,0,0,1.0000,509.59,26.60)"><text x="0" y="0" font-size="16.2"><tspan class="i">pp</tspan></text></g>
<g transform="matrix(1.0250,0,0,1.0000,548.13,26.60)"><text x="0" y="0" font-size="16.2"><tspan class="i">t</tspan></text></g>
<g transform="matrix(1.1250,0,0,1.0000,552.86,26.60)"><text x="0" y="0" font-size="16.2"><tspan class="i">t</tspan></text></g>
<g transform="matrix(0.9280,0,0,1.0000,560.32,26.60)"><text x="0" y="0" font-size="16.2"><tspan class="i">H</tspan></text></g>
<g transform="matrix(1.3115,0,0,1.3067,577.02,29.92)"><text x="0" y="0" font-size="16.2">+</text></g>
<g transform="matrix(1.1034,0,0,1.0000,593.75,26.60)"><text x="0" y="0" font-size="16.2"><tspan class="i">X</tspan></text></g>
<g transform="matrix(1.0424,0,0,1.0256,606.58,27.54)"><text x="0" y="0" font-size="16.2">)</text></g>
<g transform="matrix(0.9864,0,0,1.0000,613.07,26.60)"><text x="0" y="0" font-size="16.2">[fb/GeV]</text></g>
<g transform="matrix(1.1604,0,0,1.0000,473.16,20.60)"><text x="0" y="0" font-size="11.5">d<tspan class="i">σ</tspan></text></g>
<g transform="matrix(1.0600,0,0,0.9806,459.20,31.38)"><text x="0" y="0" font-size="11">d</text></g>
<g transform="matrix(0.9000,0,0,1.0000,465.66,31.30)"><text x="0" y="0" font-size="11.5"><tspan class="i">p</tspan></text></g>
<g transform="matrix(1.2108,0,0,0.9333,470.95,33.20)"><text x="0" y="0" font-size="8">T</text></g>
<g transform="matrix(1.0909,0,0,1.0974,480.45,31.93)"><text x="0" y="0" font-size="11">(</text></g>
<g transform="matrix(1.1647,0,0,1.0000,485.05,31.50)"><text x="0" y="0" font-size="11"><tspan class="i">H</tspan></text></g>
<g transform="matrix(1.0909,0,0,1.0835,495.69,31.96)"><text x="0" y="0" font-size="11">)</text></g>
<g transform="matrix(1.0023,0,0,1.0000,498.30,50.00)"><text x="0" y="0" font-size="16.2">NLO</text></g>
<g transform="matrix(1.0098,0,0,1.0000,532.14,50.00)"><text x="0" y="0" font-size="16.2">(QCD</text></g>
<g transform="matrix(1.3115,0,0,1.2933,572.92,52.40)"><text x="0" y="0" font-size="16.2">+</text></g>
<g transform="matrix(1.0247,0,0,1.0000,584.99,50.00)"><text x="0" y="0" font-size="16.2">EW)</text></g>
<g transform="matrix(1.3246,0,0,1.2933,617.41,52.40)"><text x="0" y="0" font-size="16.2">+</text></g>
<g transform="matrix(0.9964,0,0,1.0000,629.00,50.00)"><text x="0" y="0" font-size="16.2">NNLL</text></g>
<g transform="matrix(1.2590,0,0,1.0851,593.19,72.96)"><text x="0" y="0" font-size="16.2"><tspan class="i">S</tspan></text></g>
<g transform="matrix(1.3902,0,0,1.0000,607.36,73.47)"><text x="0" y="0" font-size="16.2">=</text></g>
<g transform="matrix(0.9628,0,0,1.0000,623.98,72.80)"><text x="0" y="0" font-size="16.2">13</text></g>
<g transform="matrix(0.9394,0,0,1.0000,645.57,72.80)"><text x="0" y="0" font-size="16.2">TeV</text></g>
<g transform="matrix(1.1800,0,0,1.0000,434.70,53.50)"><text x="0" y="0" font-size="12"><tspan class="i">μ</tspan><tspan font-size="8.5" dy="1.9">0</tspan></text></g>
<g transform="matrix(1.6000,0,0,0.9333,450.30,54.03)"><text x="0" y="0" font-size="12">=</text></g>
<g transform="matrix(1.2213,0,0,1.0000,464.85,53.50)"><text x="0" y="0" font-size="12"><tspan class="i">M</tspan>/2</text></g>
<g transform="matrix(1.1800,0,0,1.0000,434.70,71.90)"><text x="0" y="0" font-size="12"><tspan class="i">μ</tspan><tspan font-size="8.5" dy="1.9">0</tspan></text></g>
<g transform="matrix(1.6000,0,0,0.9333,450.30,72.43)"><text x="0" y="0" font-size="12">=</text></g>
<g transform="matrix(1.2597,0,0,1.0000,463.91,71.90)"><text x="0" y="0" font-size="12"><tspan class="i">Q</tspan>/2</text></g>
<g transform="matrix(1.1800,0,0,1.0000,434.70,90.20)"><text x="0" y="0" font-size="12"><tspan class="i">μ</tspan><tspan font-size="8.5" dy="1.9">0</tspan></text></g>
<g transform="matrix(1.6000,0,0,0.9333,450.30,90.73)"><text x="0" y="0" font-size="12">=</text></g>
<g transform="matrix(1.2252,0,0,1.0000,464.85,90.20)"><text x="0" y="0" font-size="12"><tspan class="i">H</tspan><tspan font-size="8.5" dy="1.9">T</tspan></text></g>
</svg></body></html>
